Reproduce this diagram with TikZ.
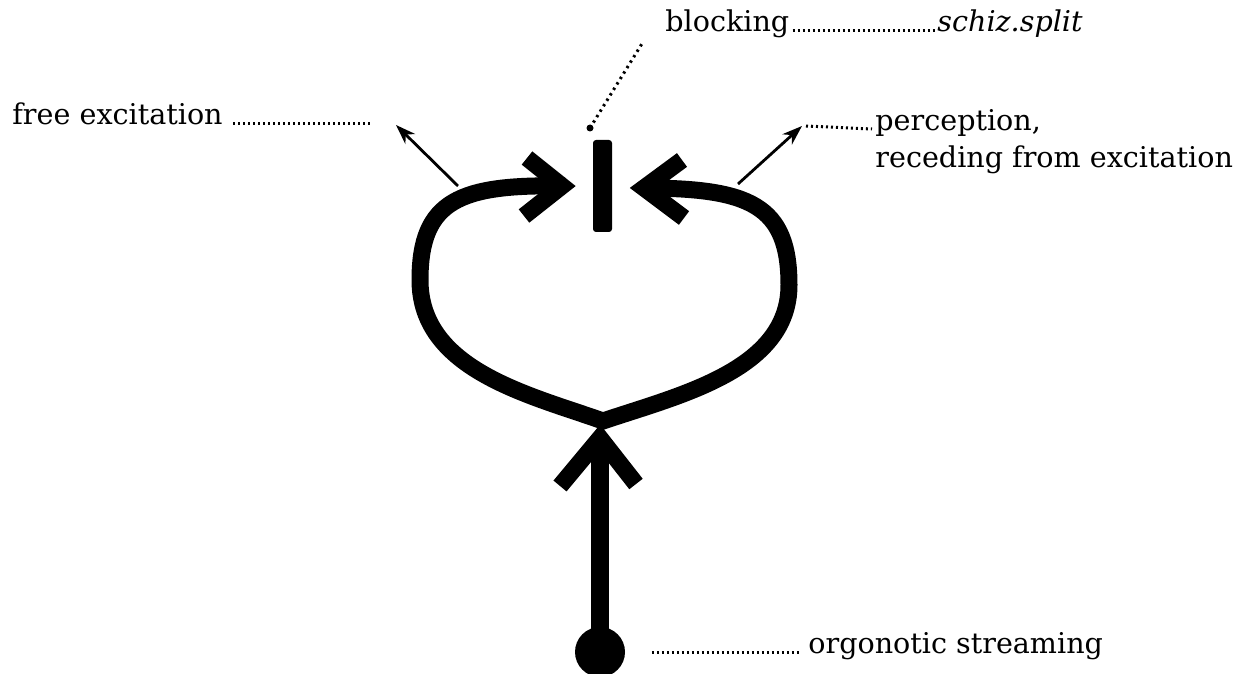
\documentclass[tikz,border=0pt]{standalone}
\usepackage{fontspec}
\setmainfont{DejaVu Serif}
\usetikzlibrary{arrows.meta, positioning, calc}

\begin{document}
\begin{tikzpicture}[x=0.5pt, y=-0.5pt,
      lbl/.style={anchor=base west, inner sep=0pt,
                  font=\fontsize{14.3}{17}\selectfont},
      flow/.style={line width=8.5pt, line cap=butt, line join=miter},
      chev/.style={line width=8.5pt, line join=miter, line cap=butt},
      bar/.style={fill=black, rectangle, rounded corners=1.5pt, inner sep=0pt,
                  minimum width=9.5pt, minimum height=46pt},
      root/.style={fill=black, circle, inner sep=0pt, minimum size=25pt},
      pointer/.style={-{Stealth[length=10pt, width=7pt]}, line width=1.4pt},
      leader/.style={line width=1.5pt, dash pattern=on 1pt off 1.5pt},
      hint/.style={line width=1.5pt, dash pattern=on 1.2pt off 2pt}
    ]
    \useasboundingbox (0,0) rectangle (1260,674);

    % Knoten
    \node[root] (root)  at (600,652) {};
    \node[bar]  (block) at (602.5,186) {};
    \coordinate (J)  at (603,421);
    \coordinate (lt) at (565,186);
    \coordinate (rt) at (642,188);

    % Herz
    \draw[flow] (lt) .. controls (460,184) and (420,200) .. (420,280)
                     .. controls (420,370) and (530,395) .. (J)
                     .. controls (680,395) and (789,370) .. (789,285)
                     .. controls (789,205) and (750,188) .. (rt);
    \draw[chev] (527,158) -- (562,186) -- (524,216);
    \draw[chev] (682,160) -- (644,188) -- (684,218);

    % Stamm
    \draw[line width=9pt] (root.center) -- (600,445);
    \draw[chev] (560,486) -- (600,438) -- (636,484);

    % Zeiger
    \coordinate (fexc) at (396,125);
    \coordinate (perc) at (802,126);
    \draw[pointer] (458,186) -- (fexc);
    \draw[pointer] (738,184) -- (perc);
    \coordinate (bl1) at (590,128);
    \coordinate (bl2) at (643,42);
    \draw[hint] (bl1) -- (bl2);
    \fill (bl1) circle[radius=3.5];

    % Beschriftungen
    \node[lbl] (free)   at (12,125)  {free excitation};
    \draw[leader] ($(free.base east)+(10,-1)$) -- ($(fexc)+(-24,-1)$);

    \node[lbl] (blk)    at (665,32)  {blocking};
    \coordinate (blkend) at (937,32);
    \draw[leader] ($(blk.base east)+(3,-1)$) -- ($(blkend)+(0,-1)$);
    \node[lbl] (schiz)  at (blkend)  {\itshape schiz.split};

    \node[lbl] (percl)  at (875,131) {perception,};
    \node[lbl] (reced)  at (875,168) {receding from excitation};
    \draw[leader] ($(perc)+(4,0)$) -- ($(percl.base west)+(-3,-2)$);

    \node[lbl] (orgo)   at (808,653) {orgonotic streaming};
    \coordinate (orgst) at (652,652);
    \draw[leader] (orgst) -- ($(orgo.base west)+(-8,-1)$);
  \end{tikzpicture}
\end{document}
